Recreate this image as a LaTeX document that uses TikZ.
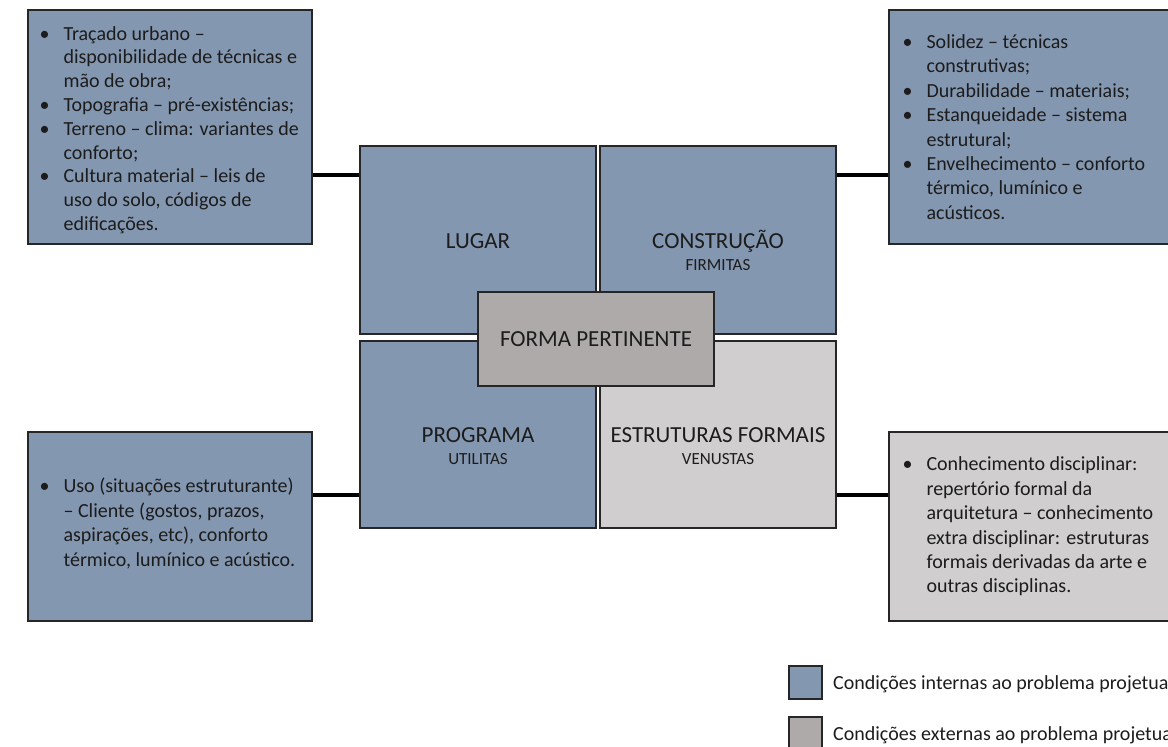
\documentclass[tikz,border=0pt]{standalone}
\usepackage{fontspec}
\setmainfont{Carlito}
\definecolor{bluebox}{HTML}{8497B0}
\definecolor{graybox}{HTML}{AEAAAA}
\definecolor{lightbox}{HTML}{D0CECE}
\definecolor{edgecol}{HTML}{262626}
\definecolor{ink}{HTML}{1C1C1C}
\newcommand\bpar[1]{\par\hangindent=24pt\hangafter=1\noindent\makebox[24pt][l]{\textbullet}#1\par}
\tikzset{
  panel/.style={draw=edgecol, line width=1.3pt, inner sep=0pt},
  bluepanel/.style={panel, fill=bluebox},
  graypanel/.style={panel, fill=graybox},
  lightpanel/.style={panel, fill=lightbox},
  bullets/.style={inner sep=0pt, anchor=west, text=ink, font=\fontsize{20}{24.4}\selectfont},
  ttl/.style={inner sep=0pt, anchor=base, text=ink, font=\fontsize{23}{27}\selectfont},
  subttl/.style={inner sep=0pt, anchor=base, text=ink, font=\fontsize{17}{20}\selectfont},
  legtxt/.style={inner sep=0pt, anchor=base west, text=ink, font=\fontsize{20}{24}\selectfont},
  conn/.style={line width=4.5pt, black}
}
\begin{document}
\begin{tikzpicture}[x=1pt,y=-1pt]
\useasboundingbox (0,0) rectangle (1168,747);
\clip (0,0) rectangle (1168,747);

% side boxes
\node[bluepanel, minimum width=284, minimum height=234] (tl) at (170,127) {};
\node[bluepanel, minimum width=291, minimum height=234] (tr) at (1034.5,127) {};
\node[bluepanel, minimum width=284, minimum height=189] (bl) at (170,526.5) {};
\node[lightpanel, minimum width=291, minimum height=189] (br) at (1034.5,526.5) {};

% center quadrants
\node[bluepanel, minimum width=236, minimum height=188] (lugar) at (478,240) {};
\node[bluepanel, minimum width=236, minimum height=188] (constr) at (718,240) {};
\node[bluepanel, minimum width=236, minimum height=187] (prog) at (478,434.5) {};
\node[lightpanel, minimum width=236, minimum height=187] (estr) at (718,434.5) {};
\node[graypanel, minimum width=236, minimum height=94] (forma) at (596,339) {};

% connectors
\draw[conn] (tl.east |- 0,175) -- (lugar.west |- 0,175);
\draw[conn] (constr.east |- 0,175) -- (tr.west |- 0,175);
\draw[conn] (bl.east |- 0,495) -- (prog.west |- 0,495);
\draw[conn] (estr.east |- 0,495) -- (br.west |- 0,495);

% titles
\node[ttl] (lugarT) at (478,248.5) {LUGAR};
\node[ttl] (constrT) at (718,248.5) {CONSTRUÇÃO};
\node[subttl] (constrS) at (718,270.5) {FIRMITAS};
\node[ttl] (progT) at (478,442.5) {PROGRAMA};
\node[subttl] (progS) at (478,464.5) {UTILITAS};
\node[ttl] (estrT) at (718,442.5) {ESTRUTURAS FORMAIS};
\node[subttl] (estrS) at (718,464.5) {VENUSTAS};
\node[ttl] (formaT) at (596,346.5) {FORMA PERTINENTE};

% bullet texts
\node[bullets, font=\fontsize{20}{23.8}\selectfont] (tlT) at ([xshift=12pt,yshift=-3pt]tl.west) {\parbox{268pt}{\raggedright
\bpar{Traçado urbano –\newline disponibilidade de técnicas e\newline mão de obra;}
\bpar{Topografia – pré-existências;}
\bpar{Terreno – clima: variantes de\newline conforto;}
\bpar{Cultura material – leis de\newline uso do solo, códigos de\newline edificações.}}};
\node[bullets] (trT) at ([xshift=14pt]tr.west) {\parbox{268pt}{\raggedright
\bpar{Solidez – técnicas\newline construtivas;}
\bpar{Durabilidade – materiais;}
\bpar{Estanqueidade – sistema\newline estrutural;}
\bpar{Envelhecimento – conforto\newline térmico, lumínico e\newline acústicos.}}};
\node[bullets] (blT) at ([xshift=12pt,yshift=3pt]bl.west) {\parbox{268pt}{\raggedright
\bpar{Uso (situações estruturante)\newline – Cliente (gostos, prazos,\newline aspirações, etc), conforto\newline térmico, lumínico e acústico.}}};
\node[bullets] (brT) at ([xshift=14pt]br.west) {\parbox{268pt}{\raggedright
\bpar{Conhecimento disciplinar:\newline repertório formal da\newline arquitetura – conhecimento\newline extra disciplinar: estruturas\newline formais derivadas da arte e\newline outras disciplinas.}}};

% legend
\node[bluepanel, minimum width=33, minimum height=33] (leg1) at (805.5,682.5) {};
\node[graypanel, minimum width=33, minimum height=33] (leg2) at (805.5,733.5) {};
\node[legtxt] (leg1T) at (833,689.5) {Condições internas ao problema projetual};
\node[legtxt] (leg2T) at (833,740.5) {Condições externas ao problema projetual};
\end{tikzpicture}
\end{document}
